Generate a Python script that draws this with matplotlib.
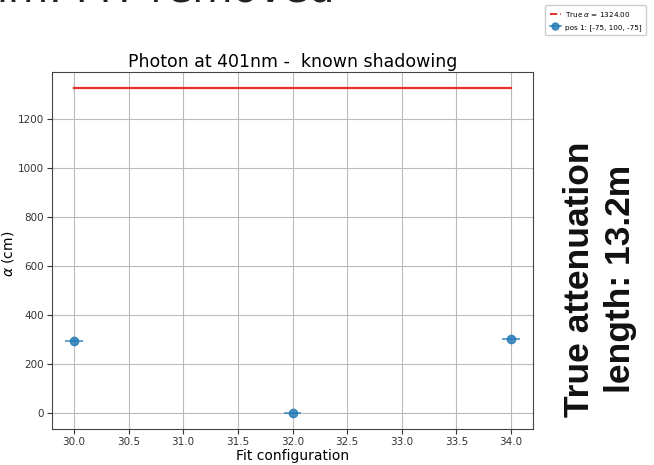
import matplotlib
matplotlib.use("Agg")
import matplotlib.pyplot as plt
from matplotlib.lines import Line2D

# Fit results
configs = [30, 32, 34]
alpha_fit = [293, 0, 301]
config_err = [0.08, 0.08, 0.08]
alpha_err = [0, 0, 0]
true_alpha = 1324.0
true_label = r"True $\alpha$ = 1324.00"
pos_label = "pos 1: [-75, 100, -75]"

fig = plt.figure(figsize=(6.54, 4.65), dpi=100)
ax = fig.add_axes([0.0795, 0.0774, 0.7355, 0.7676])

ax.plot([configs[0], configs[-1]], [true_alpha, true_alpha],
        color="#e5302a", lw=1.6, zorder=2)
ax.errorbar(configs, alpha_fit, xerr=config_err, yerr=alpha_err,
            fmt="o", color="#1f77b4", alpha=0.8, ms=6, elinewidth=1.2,
            capsize=0, zorder=3)

ax.set_xlim(29.8, 34.2)
ax.set_ylim(-66.2, 1390.2)
ax.set_xticks([30.0, 30.5, 31.0, 31.5, 32.0, 32.5, 33.0, 33.5, 34.0])
ax.set_yticks([0, 200, 400, 600, 800, 1000, 1200])
ax.tick_params(labelsize=7.5, colors="#333333", pad=2.5)
ax.grid(True, color="#bbbbbb", lw=0.8)
ax.set_axisbelow(True)
for s in ax.spines.values():
    s.set_color("#444444")

ax.set_title("Photon at 401nm -  known shadowing", fontsize=12.5, pad=4)
ax.set_xlabel("Fit configuration", fontsize=10, labelpad=1)
ax.set_ylabel(r"$\alpha$ (cm)", fontsize=10, labelpad=1)
ax.yaxis.set_label_coords(-0.075, 0.49)

handles = [
    Line2D([], [], color="#e5302a", ls="--", lw=1.4),
    Line2D([], [], color="#1f77b4", marker="o", ms=5, alpha=0.8, lw=1.2),
]
fig.legend(handles, [true_label, pos_label], loc="upper right",
           bbox_to_anchor=(0.993, 0.996),
           prop={"family": ["Liberation Sans Narrow", "DejaVu Sans"],
                 "size": 5.2},
           framealpha=1, edgecolor="#cccccc", handlelength=1.5,
           handletextpad=0.6, borderpad=0.6, labelspacing=0.7)

fig.text(335 / 654, 1 - 1 / 465, "401nm: MT removed", fontsize=30,
         ha="right", va="baseline", color="#222222")
fig.text(600 / 654, 1 - 279 / 465, "True attenuation\nlength: 13.2m",
         fontsize=25.5, fontweight="bold", family="Liberation Sans",
         rotation=90, ha="center", va="center", multialignment="center",
         linespacing=1.3, color="#111111")

fig.savefig("out.png", dpi=100)
